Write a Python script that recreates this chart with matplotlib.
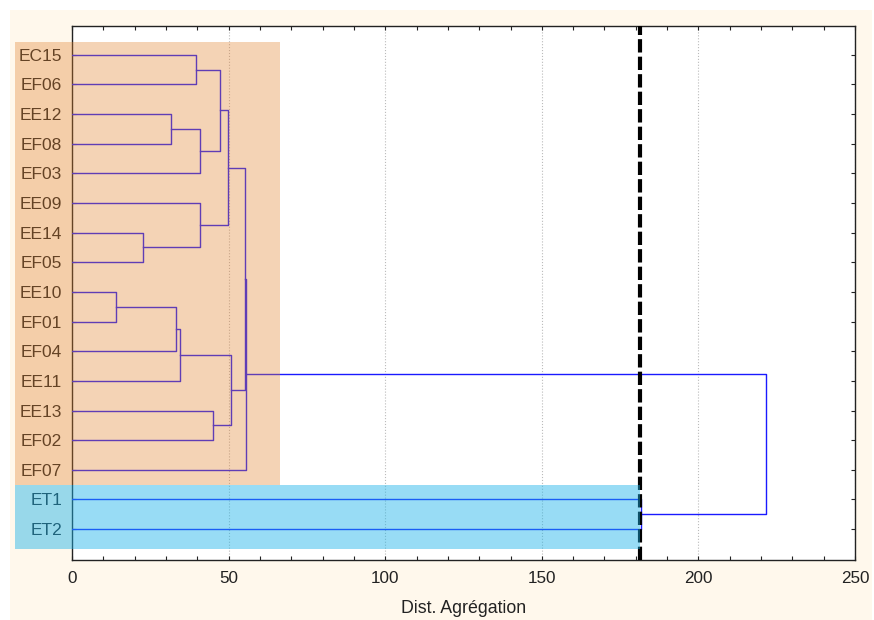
import numpy as np
import matplotlib
matplotlib.use("Agg")
import matplotlib.pyplot as plt
from matplotlib.patches import Rectangle

plt.rcParams['font.family'] = ['Liberation Sans', 'DejaVu Sans']

# leaves, top to bottom
leaves = ['EC15', 'EF06', 'EE12', 'EF08', 'EF03', 'EE09', 'EE14', 'EF05',
          'EE10', 'EF01', 'EF04', 'EE11', 'EE13', 'EF02', 'EF07', 'ET1', 'ET2']
n = len(leaves)

# merge steps: (child a, child b); ids >= n point to the (id - n)-th merge
merge_pairs = [
    (0, 1), (2, 3), (n + 1, 4), (n + 0, n + 2),
    (6, 7), (5, n + 4), (n + 3, n + 5),
    (8, 9), (n + 7, 10), (n + 8, 11), (12, 13),
    (n + 9, n + 10), (n + 6, n + 11), (n + 12, 14),
    (15, 16), (n + 13, n + 14),
]
merge_h = [39.6, 31.6, 40.9, 47.4,
           22.7, 40.9, 49.7,
           14.0, 33.2, 34.4, 45.1,
           50.9, 55.2, 55.6,
           181.6, 221.6]

cut_value = 181.4

fig = plt.figure(figsize=(8.74, 6.2), dpi=100)
fig.patch.set_facecolor('white')
fig.patches.append(Rectangle((10 / 874, 0), 862 / 874, 610 / 620,
                             transform=fig.transFigure, facecolor='#fff8ec',
                             edgecolor='none', zorder=-10))
ax = fig.add_axes([0.0824, 0.0968, 0.8959, 0.8613])

# node position: (y, distance)
pos = {i: (float(i), 0.0) for i in range(n)}
line_col = '#1a1aff'
for k, (a, b) in enumerate(merge_pairs):
    h = merge_h[k]
    ya, xa = pos[a]
    yb, xb = pos[b]
    ax.plot([xa, h, h, xb], [ya, ya, yb, yb], color=line_col, lw=1.0, zorder=3)
    pos[n + k] = ((ya + yb) / 2, h)

ax.axvline(cut_value, color='black', lw=3, dashes=(3.2, 1.0), zorder=3.5)

# group shading, drawn over the tree
ax.add_patch(Rectangle((-18.2, -0.43), 84.6, 14.94, facecolor='#e2812c',
                       alpha=0.35, edgecolor='none', zorder=6, clip_on=False))
ax.add_patch(Rectangle((-18.2, 14.51), 199.6, 2.16, facecolor='#1cb3e9',
                       alpha=0.45, edgecolor='none', zorder=6, clip_on=False))

ax.set_xlim(0, 250)
ax.set_ylim(17.04, -0.97)
ax.set_xticks(np.arange(0, 251, 50))
ax.set_xticks(np.arange(0, 251, 10), minor=True)
ax.set_yticks(np.arange(n))
ax.set_yticklabels(leaves)
ax.tick_params(axis='both', which='both', direction='in', length=3, width=0.8,
               top=True, right=True, colors='#222222')
ax.tick_params(axis='y', pad=7, labelsize=12.5)
ax.tick_params(axis='x', pad=8, labelsize=12.3)
ax.xaxis.grid(True, which='major', color='#bbbbbb', ls=':', lw=0.8)
for s in ax.spines.values():
    s.set_linewidth(1.0)
    s.set_color('#222222')
ax.set_xlabel('Dist. Agrégation', fontsize=12.8, labelpad=10, color='#222222')

fig.savefig('out.png', dpi=100, facecolor=fig.get_facecolor())
